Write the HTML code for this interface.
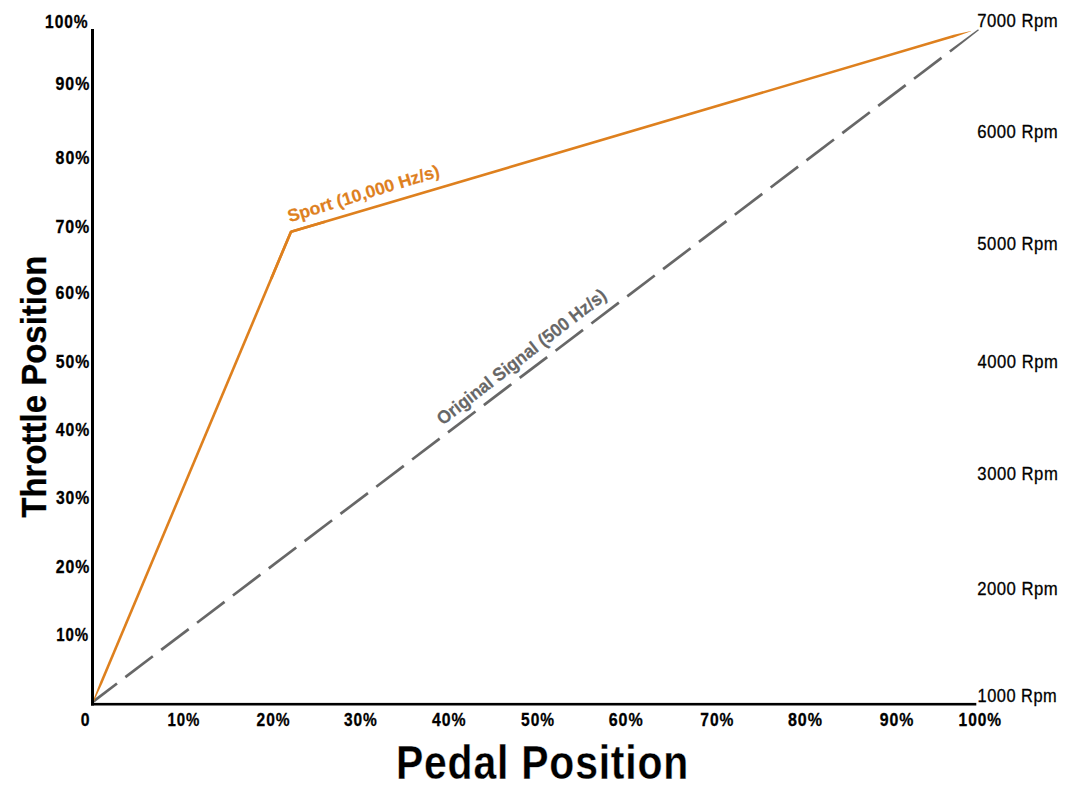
<!DOCTYPE html>
<html><head><meta charset="utf-8"><style>
html,body{margin:0;padding:0;background:#fff;}
svg{display:block;}
text{font-family:"Liberation Sans",sans-serif;font-kerning:none;}
</style></head><body>
<svg width="1080" height="800" viewBox="0 0 1080 800">
<rect x="0" y="0" width="1080" height="800" fill="#fff"/>
<polygon points="94.32,702.38 117.82,684.54 116.18,682.39 92.68,700.22" fill="#676767"/>
<polygon points="126.18,678.20 153.67,657.34 152.03,655.19 124.55,676.05" fill="#676767"/>
<polygon points="162.03,651.00 189.51,630.14 187.88,627.99 160.40,648.85" fill="#676767"/>
<polygon points="197.88,623.80 225.36,602.94 223.73,600.79 196.25,621.65" fill="#676767"/>
<polygon points="233.73,596.60 261.21,575.74 259.58,573.59 232.10,594.44" fill="#676767"/>
<polygon points="269.58,569.40 297.06,548.54 295.43,546.39 267.94,567.24" fill="#676767"/>
<polygon points="305.43,542.19 332.91,521.34 331.28,519.19 303.79,540.04" fill="#676767"/>
<polygon points="341.27,514.99 368.76,494.14 367.13,491.99 339.64,512.84" fill="#676767"/>
<polygon points="377.12,487.79 404.61,466.94 402.97,464.79 375.49,485.64" fill="#676767"/>
<polygon points="412.97,460.59 440.46,439.74 438.82,437.59 411.34,458.44" fill="#676767"/>
<polygon points="448.82,433.39 476.30,412.54 474.67,410.39 447.19,431.24" fill="#676767"/>
<polygon points="484.67,406.19 512.15,385.34 510.52,383.19 483.04,404.04" fill="#676767"/>
<polygon points="520.52,378.99 548.00,358.14 546.37,355.99 518.89,376.84" fill="#676767"/>
<polygon points="556.37,351.79 583.85,330.94 582.22,328.79 554.73,349.64" fill="#676767"/>
<polygon points="592.22,324.59 619.70,303.74 618.07,301.59 590.58,322.44" fill="#676767"/>
<polygon points="628.06,297.39 655.55,276.54 653.92,274.39 626.43,295.24" fill="#676767"/>
<polygon points="663.91,270.19 691.40,249.34 689.76,247.19 662.28,268.04" fill="#676767"/>
<polygon points="699.76,242.99 727.25,222.14 725.61,219.98 698.13,240.84" fill="#676767"/>
<polygon points="735.61,215.79 763.09,194.94 761.46,192.78 733.98,213.64" fill="#676767"/>
<polygon points="771.46,188.59 798.94,167.73 797.31,165.58 769.83,186.44" fill="#676767"/>
<polygon points="807.31,161.39 834.79,140.53 833.16,138.38 805.68,159.24" fill="#676767"/>
<polygon points="843.16,134.19 870.64,113.33 869.01,111.18 841.52,132.04" fill="#676767"/>
<polygon points="879.01,106.99 906.49,86.13 904.86,83.98 877.37,104.84" fill="#676767"/>
<polygon points="914.85,79.79 942.34,58.93 940.71,56.78 913.22,77.64" fill="#676767"/>
<polygon points="950.70,52.59 978.92,30.36 978.08,29.24 949.07,50.43" fill="#676767"/>
<polyline points="271.25,278.63 291.0,231.7 325.00,221.67" fill="none" stroke="#DE801E" stroke-width="2.6" stroke-linejoin="miter"/>
<polygon points="289.80,231.20 100.20,681.72 93.04,700.81 93.96,701.19 102.60,682.73 292.20,232.20" fill="#DE801E"/>
<polygon points="291.37,232.95 954.37,37.36 971.04,31.24 970.96,30.96 953.63,34.87 290.63,230.45" fill="#DE801E"/>
<rect x="91" y="29" width="3" height="676.5" fill="#000"/>
<rect x="91" y="702.9" width="885.3" height="2.6" fill="#000"/>
<text transform="translate(45.12,27.68) scale(0.8595,1)" font-size="18.10" font-weight="bold" fill="#000" letter-spacing="1.086" stroke="#000" stroke-width="0.3">100%</text>
<text transform="translate(55.55,89.68) scale(0.8795,1)" font-size="18.10" font-weight="bold" fill="#000" letter-spacing="1.086" stroke="#000" stroke-width="0.3">90%</text>
<text transform="translate(55.60,164.43) scale(0.8783,1)" font-size="18.10" font-weight="bold" fill="#000" letter-spacing="1.086" stroke="#000" stroke-width="0.3">80%</text>
<text transform="translate(55.41,232.63) scale(0.8831,1)" font-size="18.10" font-weight="bold" fill="#000" letter-spacing="1.086" stroke="#000" stroke-width="0.3">70%</text>
<text transform="translate(55.52,299.43) scale(0.8803,1)" font-size="18.10" font-weight="bold" fill="#000" letter-spacing="1.086" stroke="#000" stroke-width="0.3">60%</text>
<text transform="translate(55.81,367.63) scale(0.8725,1)" font-size="18.10" font-weight="bold" fill="#000" letter-spacing="1.086" stroke="#000" stroke-width="0.3">50%</text>
<text transform="translate(55.86,436.08) scale(0.8712,1)" font-size="18.10" font-weight="bold" fill="#000" letter-spacing="1.086" stroke="#000" stroke-width="0.3">40%</text>
<text transform="translate(55.94,504.37) scale(0.8692,1)" font-size="18.10" font-weight="bold" fill="#000" letter-spacing="1.086" stroke="#000" stroke-width="0.3">30%</text>
<text transform="translate(55.75,572.88) scale(0.8741,1)" font-size="18.10" font-weight="bold" fill="#000" letter-spacing="1.086" stroke="#000" stroke-width="0.3">20%</text>
<text transform="translate(56.25,641.38) scale(0.8319,1)" font-size="18.10" font-weight="bold" fill="#000" letter-spacing="1.086" stroke="#000" stroke-width="0.3">10%</text>
<text transform="translate(167.55,725.88) scale(0.8292,1)" font-size="18.10" font-weight="bold" fill="#000" letter-spacing="1.086" stroke="#000" stroke-width="0.3">10%</text>
<text transform="translate(256.56,725.88) scale(0.8581,1)" font-size="18.10" font-weight="bold" fill="#000" letter-spacing="1.086" stroke="#000" stroke-width="0.3">20%</text>
<text transform="translate(344.04,725.87) scale(0.8559,1)" font-size="18.10" font-weight="bold" fill="#000" letter-spacing="1.086" stroke="#000" stroke-width="0.3">30%</text>
<text transform="translate(431.96,725.88) scale(0.8739,1)" font-size="18.10" font-weight="bold" fill="#000" letter-spacing="1.086" stroke="#000" stroke-width="0.3">40%</text>
<text transform="translate(521.12,725.88) scale(0.8591,1)" font-size="18.10" font-weight="bold" fill="#000" letter-spacing="1.086" stroke="#000" stroke-width="0.3">50%</text>
<text transform="translate(608.71,725.88) scale(0.8857,1)" font-size="18.10" font-weight="bold" fill="#000" letter-spacing="1.086" stroke="#000" stroke-width="0.3">60%</text>
<text transform="translate(700.33,725.88) scale(0.8615,1)" font-size="18.10" font-weight="bold" fill="#000" letter-spacing="1.086" stroke="#000" stroke-width="0.3">70%</text>
<text transform="translate(787.99,725.88) scale(0.8863,1)" font-size="18.10" font-weight="bold" fill="#000" letter-spacing="1.086" stroke="#000" stroke-width="0.3">80%</text>
<text transform="translate(879.75,725.88) scale(0.8768,1)" font-size="18.10" font-weight="bold" fill="#000" letter-spacing="1.086" stroke="#000" stroke-width="0.3">90%</text>
<text transform="translate(958.62,725.88) scale(0.8574,1)" font-size="18.10" font-weight="bold" fill="#000" letter-spacing="1.086" stroke="#000" stroke-width="0.3">100%</text>
<text transform="translate(80.78,726.06) scale(0.8713,1)" font-size="18.10" font-weight="bold" fill="#000" letter-spacing="1.086" stroke="#000" stroke-width="0.3">0</text>
<text transform="translate(977.14,27.19) scale(0.9137,1)" font-size="18.30" font-weight="normal" fill="#000" letter-spacing="0.549" stroke="#000" stroke-width="0.3">7000 Rpm</text>
<text transform="translate(977.15,137.79) scale(0.9136,1)" font-size="18.30" font-weight="normal" fill="#000" letter-spacing="0.549" stroke="#000" stroke-width="0.3">6000 Rpm</text>
<text transform="translate(977.33,250.24) scale(0.9116,1)" font-size="18.30" font-weight="normal" fill="#000" letter-spacing="0.549" stroke="#000" stroke-width="0.3">5000 Rpm</text>
<text transform="translate(977.62,368.19) scale(0.9083,1)" font-size="18.30" font-weight="normal" fill="#000" letter-spacing="0.549" stroke="#000" stroke-width="0.3">4000 Rpm</text>
<text transform="translate(977.36,479.69) scale(0.9112,1)" font-size="18.30" font-weight="normal" fill="#000" letter-spacing="0.549" stroke="#000" stroke-width="0.3">3000 Rpm</text>
<text transform="translate(977.16,594.99) scale(0.9135,1)" font-size="18.30" font-weight="normal" fill="#000" letter-spacing="0.549" stroke="#000" stroke-width="0.3">2000 Rpm</text>
<text transform="translate(977.55,702.19) scale(0.8976,1)" font-size="18.30" font-weight="normal" fill="#000" letter-spacing="0.549" stroke="#000" stroke-width="0.3">1000 Rpm</text>
<text transform="translate(395.97,779.05) scale(0.8640,1)" font-size="47.31" font-weight="bold" fill="#000" letter-spacing="0.946" stroke="#fff" stroke-width="0.3">Pedal Position</text>
<text transform="translate(45.75,517.30) rotate(-90) translate(-0.37,0) scale(0.9262,1)" font-size="35.61" font-weight="bold" fill="#000" stroke="#000" stroke-width="0.3">Throttle Position</text>
<g transform="rotate(-0.600,290.29,222.21)"><text transform="translate(289.80,222.36) rotate(-16.436) scale(1.0142,1)" font-size="17.40" font-weight="bold" fill="#DE801E" stroke="#DE801E" stroke-width="0.2">Sport (10,000 Hz/s)</text></g>
<g transform="rotate(-0.600,443.33,425.32)"><text transform="translate(442.76,425.76) rotate(-37.190) scale(0.9519,1)" font-size="18.30" font-weight="bold" fill="#676767" stroke="#676767" stroke-width="0.2">Original Signal (500 Hz/s)</text></g>
</svg>
</body></html>
